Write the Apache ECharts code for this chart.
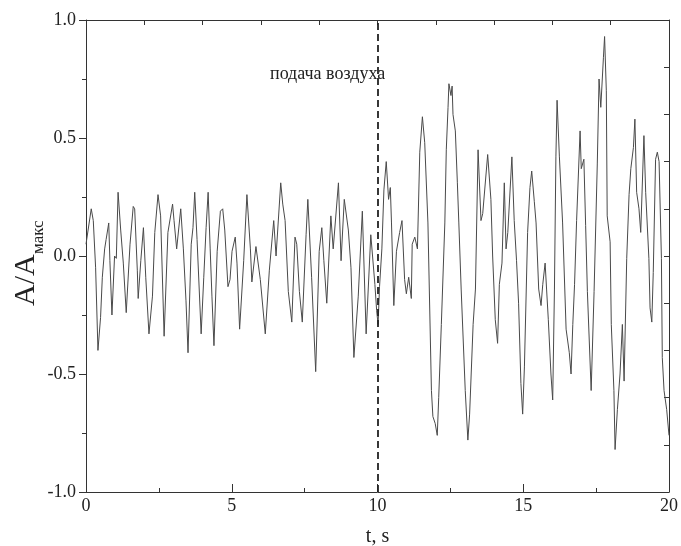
<!DOCTYPE html>
<html>
<head>
<meta charset="utf-8">
<script src="https://cdn.jsdelivr.net/npm/echarts@6/dist/echarts.min.js"></script>
<style>
html,body{margin:0;padding:0;background:#fff;}
#chart{width:681px;height:546px;}
</style>
</head>
<body>
<div id="chart"></div>
<script>
// time (s) and normalised amplitude A/Amax
const beforeAir = [
[0.00,0.05],[0.18,0.20],[0.25,0.15],[0.33,-0.05],[0.41,-0.40],[0.50,-0.26],[0.56,-0.09],[0.64,0.03],[0.69,0.07],[0.78,0.14],
[0.82,-0.02],[0.89,-0.25],[0.98,0.00],[1.04,-0.01],[1.10,0.27],[1.19,0.11],[1.28,-0.03],[1.38,-0.24],[1.51,0.05],[1.62,0.21],
[1.67,0.20],[1.76,-0.06],[1.79,-0.18],[1.88,-0.02],[1.97,0.12],[2.05,-0.09],[2.16,-0.33],[2.28,-0.17],[2.36,0.10],[2.47,0.26],
[2.56,0.17],[2.68,-0.34],[2.81,0.10],[2.97,0.22],[3.02,0.15],[3.11,0.03],[3.25,0.20],[3.34,0.03],[3.43,-0.19],[3.50,-0.41],
[3.61,0.05],[3.67,0.12],[3.73,0.27],[3.81,0.07],[3.95,-0.33],[4.04,-0.09],[4.12,0.12],[4.19,0.27],[4.26,0.03],[4.32,-0.17],
[4.39,-0.38],[4.50,0.02],[4.61,0.19],[4.69,0.20],[4.76,0.11],[4.87,-0.13],[4.94,-0.10],[5.01,0.02],[5.12,0.08],[5.18,-0.03],
[5.27,-0.31],[5.41,-0.02],[5.52,0.26],[5.64,0.03],[5.69,-0.11],[5.83,0.04],[5.98,-0.10],[6.15,-0.33],[6.29,-0.06],[6.44,0.15],
[6.52,0.00],[6.68,0.31],[6.75,0.22],[6.83,0.15],[6.94,-0.15],[7.06,-0.28],[7.17,0.08],[7.23,0.05],[7.32,-0.15],[7.42,-0.28],
[7.55,0.09],[7.61,0.24],[7.74,-0.09],[7.88,-0.49],[8.00,0.02],[8.09,0.12],[8.16,-0.02],[8.26,-0.20],[8.40,0.17],[8.48,0.03],
[8.66,0.31],[8.75,-0.02],[8.86,0.24],[9.00,0.11],[9.09,-0.05],[9.19,-0.43],[9.34,-0.17],[9.48,0.19],[9.61,-0.33],[9.77,0.09],
[9.91,-0.12],[9.97,-0.23]
];
const afterAir = [
[10.02,-0.29],[10.07,-0.13],[10.15,0.03],[10.22,0.28],[10.30,0.40],[10.38,0.24],[10.44,0.29],[10.48,0.14],[10.56,-0.21],[10.65,0.02],
[10.76,0.10],[10.84,0.15],[10.93,-0.10],[10.99,-0.16],[11.07,-0.09],[11.16,-0.18],[11.19,0.05],[11.28,0.08],[11.37,0.03],[11.45,0.44],
[11.54,0.59],[11.62,0.48],[11.73,0.14],[11.85,-0.57],[11.90,-0.68],[11.98,-0.71],[12.05,-0.76],[12.10,-0.60],[12.19,-0.29],[12.31,0.14],
[12.36,0.45],[12.42,0.63],[12.45,0.73],[12.52,0.68],[12.56,0.72],[12.59,0.60],[12.67,0.53],[12.74,0.31],[12.79,0.14],[12.87,-0.14],
[13.01,-0.57],[13.10,-0.78],[13.16,-0.67],[13.28,-0.29],[13.36,-0.14],[13.45,0.45],[13.55,0.15],[13.61,0.18],[13.78,0.43],[13.89,0.24],
[13.95,0.00],[14.04,-0.27],[14.12,-0.37],[14.18,-0.12],[14.27,-0.03],[14.35,0.31],[14.41,0.03],[14.47,0.10],[14.61,0.42],[14.69,0.15],
[14.77,-0.02],[14.84,-0.20],[14.92,-0.54],[14.98,-0.67],[15.04,-0.47],[15.15,0.10],[15.23,0.29],[15.29,0.36],[15.38,0.23],[15.44,0.14],
[15.53,-0.14],[15.61,-0.21],[15.67,-0.12],[15.75,-0.03],[15.80,-0.14],[15.86,-0.27],[15.95,-0.50],[16.01,-0.61],[16.07,-0.14],[16.12,0.42],
[16.16,0.66],[16.24,0.42],[16.35,0.14],[16.47,-0.31],[16.58,-0.41],[16.64,-0.50],[16.70,-0.29],[16.76,-0.12],[16.83,0.15],[16.95,0.53],
[16.99,0.37],[17.08,0.41],[17.14,0.13],[17.20,-0.15],[17.33,-0.57],[17.43,-0.15],[17.54,0.39],[17.60,0.75],[17.66,0.63],[17.75,0.84],
[17.79,0.93],[17.85,0.70],[17.88,0.17],[17.98,0.06],[18.02,-0.29],[18.11,-0.57],[18.15,-0.82],[18.23,-0.65],[18.32,-0.50],[18.40,-0.29],
[18.46,-0.53],[18.55,-0.01],[18.63,0.26],[18.69,0.37],[18.78,0.46],[18.83,0.58],[18.89,0.27],[18.97,0.20],[19.03,0.10],[19.14,0.51],
[19.20,0.27],[19.31,-0.01],[19.35,-0.22],[19.41,-0.28],[19.46,-0.07],[19.54,0.41],[19.60,0.44],[19.66,0.40],[19.74,-0.01],[19.77,-0.43],
[19.83,-0.57],[19.92,-0.65],[20.00,-0.76]
];
const xTicks = [0, 5, 10, 15, 20];
const yTicks = [-1.0, -0.5, 0.0, 0.5, 1.0];
const airOnTime = 10;
const annotation = 'подача воздуха';
const xName = 't, s';
const yNameMain = 'A/A';
const yNameSub = 'макс';

const FONT = '"Liberation Serif","DejaVu Serif",serif';
const INK = '#222';

const chart = echarts.init(document.getElementById('chart'), null, {renderer: 'canvas'});
const signal = beforeAir.concat(afterAir);

chart.setOption({
  animation: false,
  backgroundColor: '#fff',
  grid: {left: 86, right: 12, top: 20, bottom: 54, containLabel: false, outerBoundsMode: 'none'},
  xAxis: [{
    type: 'value',
    min: xTicks[0], max: xTicks[xTicks.length - 1], interval: xTicks[1] - xTicks[0],
    position: 'bottom',
    axisLine: {show: true, onZero: false, lineStyle: {color: '#333', width: 1}},
    axisTick: {show: true, inside: true, length: 8, lineStyle: {color: '#333'}},
    minorTick: {show: true, splitNumber: 2, length: 4, lineStyle: {color: '#333'}},
    splitLine: {show: false},
    axisLabel: {color: INK, fontFamily: FONT, fontSize: 18, margin: 5},
    name: xName, nameLocation: 'middle', nameGap: 35,
    nameTextStyle: {color: INK, fontFamily: FONT, fontSize: 20}
  }, {
    type: 'value',
    min: 0, max: 20, interval: 2,
    position: 'top',
    axisLine: {show: true, onZero: false, lineStyle: {color: '#333', width: 1}},
    axisTick: {show: true, inside: true, length: 5, lineStyle: {color: '#333'}},
    axisLabel: {show: false},
    splitLine: {show: false}
  }],
  yAxis: [{
    type: 'value',
    min: yTicks[0], max: yTicks[yTicks.length - 1], interval: yTicks[1] - yTicks[0],
    position: 'left',
    axisLine: {show: true, onZero: false, lineStyle: {color: '#333', width: 1}},
    axisTick: {show: true, inside: false, length: 7, lineStyle: {color: '#333'}},
    minorTick: {show: true, splitNumber: 2, length: 4, lineStyle: {color: '#333'}},
    splitLine: {show: false},
    axisLabel: {color: INK, fontFamily: FONT, fontSize: 18, margin: 10,
      formatter: v => v.toFixed(1)}
  }, {
    type: 'value',
    min: -1, max: 1, interval: 0.2,
    position: 'right',
    axisLine: {show: true, onZero: false, lineStyle: {color: '#333', width: 1}},
    axisTick: {show: true, inside: true, length: 5, lineStyle: {color: '#333'}},
    axisLabel: {show: false},
    splitLine: {show: false}
  }],
  series: [{
    type: 'line',
    xAxisIndex: 0, yAxisIndex: 0,
    data: signal,
    showSymbol: false,
    symbol: 'none',
    lineStyle: {color: '#4a4a4a', width: 1},
    markLine: {
      silent: true,
      symbol: ['none', 'none'],
      label: {show: false},
      lineStyle: {color: '#222', width: 1.8, type: [7, 4]},
      data: [{xAxis: airOnTime}]
    }
  }],
  graphic: [
    {type: 'text', left: 270, top: 65,
      style: {text: annotation, fill: INK, font: '18px ' + FONT}},
    {type: 'text', x: 41, y: 306, rotation: Math.PI / 2,
      style: {text: yNameMain, fill: INK, font: '30px ' + FONT, textAlign: 'left', textVerticalAlign: 'bottom'}},
    {type: 'text', x: 47, y: 254, rotation: Math.PI / 2,
      style: {text: yNameSub, fill: INK, font: '17px ' + FONT, textAlign: 'left', textVerticalAlign: 'bottom'}}
  ]
});
</script>
</body>
</html>
